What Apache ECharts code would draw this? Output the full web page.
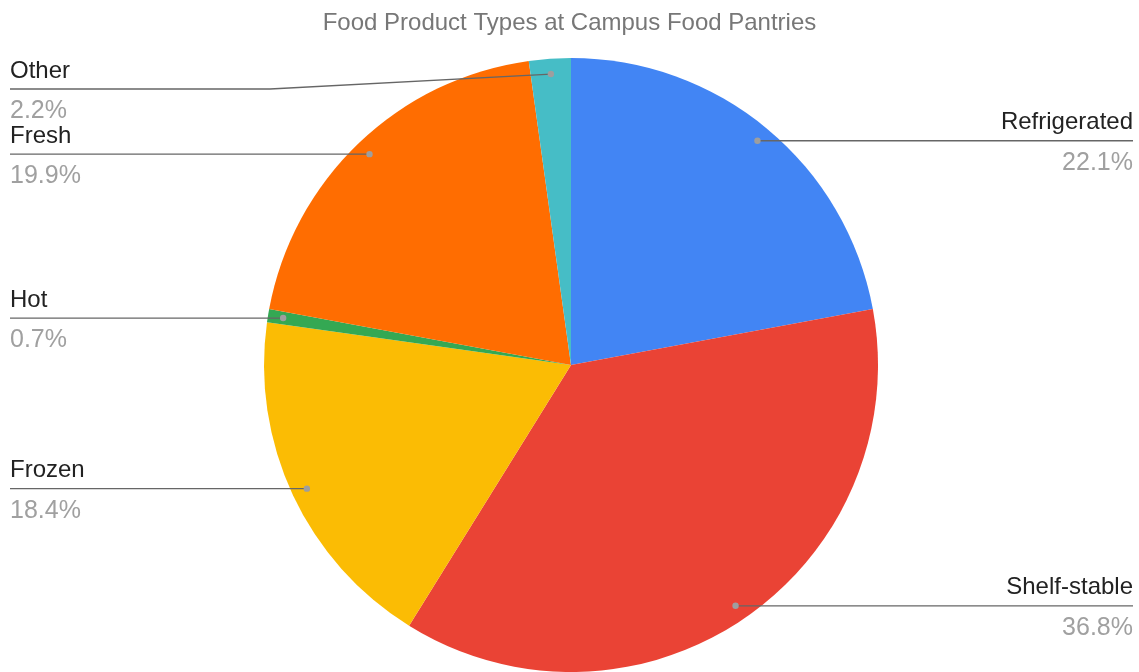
<!DOCTYPE html>
<html>
<head>
<meta charset="utf-8">
<script src="https://cdn.jsdelivr.net/npm/echarts@6/dist/echarts.min.js"></script>
<style>
html, body { margin: 0; padding: 0; background: #fff; }
#main { width: 1139px; height: 672px; }
</style>
</head>
<body>
<div id="main"></div>
<script>
var categories = ['Refrigerated', 'Shelf-stable', 'Frozen', 'Hot', 'Fresh', 'Other'];
var shares = [22.1, 36.8, 18.4, 0.7, 19.9, 2.2];
var colors = ['#4285f4', '#ea4335', '#fbbc04', '#34a853', '#ff6d01', '#46bdc6'];

var cx = 571, cy = 365, R = 307;
var labelTop = 89; // labels can't go higher than this
var leaders = [];

var chart = echarts.init(document.getElementById('main'));

var data = categories.map(function (name, i) {
    return { name: name, value: shares[i], itemStyle: { color: colors[i] } };
});

var option = {
    animation: false,
    title: {
        text: 'Food Product Types at Campus Food Pantries',
        left: 'center',
        top: 6,
        textStyle: {
            fontFamily: 'Liberation Sans, Arial, sans-serif',
            fontSize: 24,
            fontWeight: 'normal',
            color: '#777'
        }
    },
    series: [{
        type: 'pie',
        center: [cx, cy],
        radius: R,
        startAngle: 90,
        clockwise: true,
        avoidLabelOverlap: false,
        data: data,
        label: {
            show: true,
            position: 'outside',
            formatter: function (p) {
                return '{n|' + p.name + '}\n{p|' + p.value.toFixed(1) + '%}';
            },
            rich: {
                n: { fontFamily: 'Liberation Sans, Arial, sans-serif', fontSize: 24, color: '#222', lineHeight: 40 },
                p: { fontFamily: 'Liberation Sans, Arial, sans-serif', fontSize: 25, color: '#a0a0a0', lineHeight: 40 }
            }
        },
        // drawn again on top as graphic polylines, since the slices cover it
        labelLine: {
            show: true,
            length: 10,
            length2: 10,
            lineStyle: { color: '#666', width: 1.3, opacity: 0 }
        },
        labelLayout: function (params) {
            var p0 = params.labelLinePoints[0];
            var dx = cx + 0.95 * (p0[0] - cx);
            var dy = cy + 0.95 * (p0[1] - cy);
            var isLeft = dx < cx;
            var ly = Math.max(dy, labelTop);
            var edge = isLeft ? 10 : 1133;
            var elbowX = ly === dy ? (dx + edge) / 2 : 270;
            var pts = [[dx, dy], [elbowX, ly], [edge, ly]];
            leaders[params.dataIndex] = pts;
            return {
                x: edge,
                y: ly + 2,
                align: isLeft ? 'left' : 'right',
                verticalAlign: 'middle',
                labelLinePoints: pts
            };
        }
    }]
};

chart.setOption(option);

var extras = [];
leaders.forEach(function (pts) {
    extras.push({
        type: 'polyline',
        shape: { points: pts },
        style: { stroke: '#666', lineWidth: 1.3, fill: null },
        z: 100
    });
    extras.push({
        type: 'circle',
        shape: { cx: pts[0][0], cy: pts[0][1], r: 3.2 },
        style: { fill: '#9e9e9e' },
        z: 101
    });
});
chart.setOption({ graphic: extras });
</script>
</body>
</html>
